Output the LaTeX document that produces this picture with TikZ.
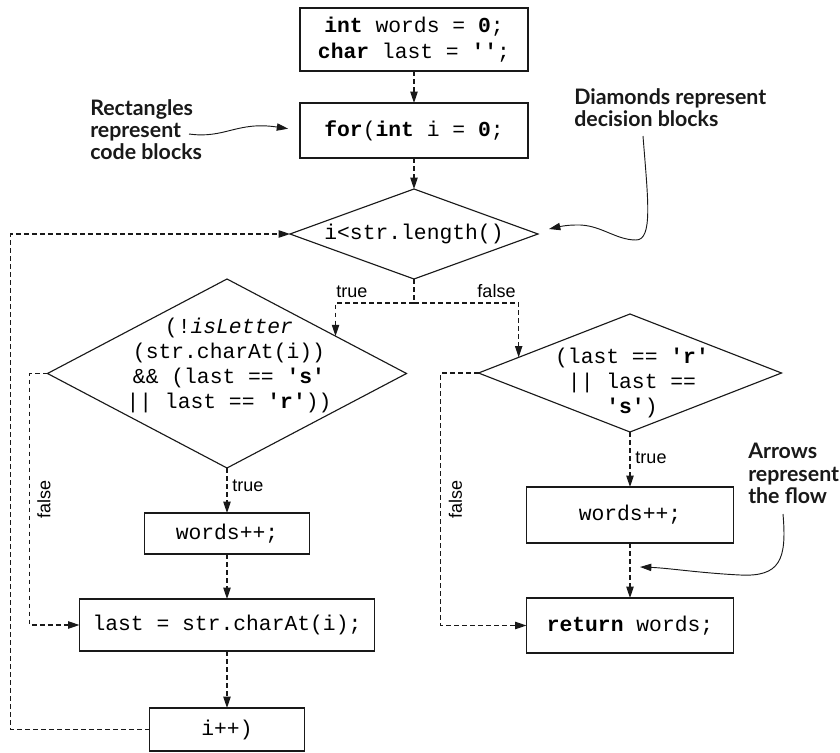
\documentclass[tikz,border=0pt]{standalone}
\usepackage{fontspec}
\setmainfont{Liberation Sans}
\setmonofont{Liberation Mono}
\newfontfamily\annofont{Lato}
\usetikzlibrary{shapes.geometric,arrows.meta,calc}

\tikzset{
  codebox/.style={draw=black!90, line width=0.85pt, inner sep=0pt, outer sep=0pt,
    font=\ttfamily\fontsize{16}{19}\selectfont, align=center},
  codetext/.style={inner sep=0pt, font=\ttfamily\fontsize{16}{18.75}\selectfont, align=center},
  dia/.style={draw=black!90, line width=0.85pt, shape=diamond, inner sep=0pt, outer sep=0pt},
  flowline/.style={draw=black!90, line width=0.85pt, dash pattern=on 3.6pt off 2.4pt},
  flow/.style={flowline, -{Triangle[length=8.5pt,width=5.5pt]}},
  anno/.style={font=\annofont\bfseries\fontsize{16}{16.75}\selectfont, align=left,
    inner sep=0pt, anchor=north west, text=black!90},
  annoarrow/.style={draw=black!90, line width=0.7pt, -{Triangle[length=8.5pt,width=5.5pt]}},
  lbl/.style={font=\fontsize{13.5}{15}\selectfont, inner sep=0pt}
}

\begin{document}
\begin{tikzpicture}[x=0.75pt,y=-0.75pt]
\useasboundingbox (0,0) rectangle (840,753);

% code blocks
\node[codebox, minimum width=171pt, minimum height=47.25pt] (init) at (414,39.5)
  {\textbf{int} words = \textbf{0};\\\textbf{char} last = \textbf{'{}'};};
\node[codebox, minimum width=171pt, minimum height=41.25pt] (forb) at (414,130.5)
  {\textbf{for}(\textbf{int} i = \textbf{0};};

% decisions
\node[dia, minimum width=186pt, minimum height=67.5pt] (cond) at (414,234) {};
\node[codetext] (condtxt) at (414,234) {i<str.length()};

\node[dia, minimum width=269.25pt, minimum height=141.75pt] (letter) at (227,373.5) {};
\node[codetext] (lettertxt) at (229,365)
  {(!\textit{isLetter}\\(str.charAt(i))\\\&\& (last == \textbf{'s'}\\|| last == \textbf{'r'}))};

\node[dia, minimum width=227.25pt, minimum height=88.5pt] (rs) at (630,373) {};
\node[codetext] (rstxt) at (632,383)
  {(last == \textbf{'r'}\\|| last ==\\\textbf{'s'})};

% left column
\node[codebox, minimum width=123.75pt, minimum height=30.75pt] (lw) at (227,533.5) {words++;};
\node[codebox, minimum width=221.25pt, minimum height=39pt] (last) at (227,625) {last = str.charAt(i);};
\node[codebox, minimum width=116.25pt, minimum height=32.25pt] (ipp) at (227,729.5) {i++)};

% right column
\node[codebox, minimum width=155.25pt, minimum height=42pt] (rw) at (630,515) {words++;};
\node[codebox, minimum width=155.25pt, minimum height=41.25pt] (ret) at (630,625.5) {\textbf{return} words;};

% connectors
\draw[flow] (init) -- (forb);
\draw[flow] (forb) -- (cond);
\coordinate (split) at (414,303);
\draw[flowline] (cond.south) -- (split);
\draw[flow] (split) -| (letter.19);
\draw[flow] (split) -| (rs.172.5);
\node[lbl] (ltrue) at (352,292) {true};
\node[lbl] (rfalse) at (496.5,291) {false};

\draw[flow] (letter.south) -- (lw.north);
\node[lbl] (ltrue2) at (248,485.5) {true};
\draw[flow] (letter.west) -- ++(-18,0) |- (last.west);
\node[lbl, rotate=90] (lfalse2) at (44,499) {false};
\draw[flow] (lw) -- (last);
\draw[flow] (last) -- (ipp);
\draw[flow] (ipp.west) -- ++(-139,0) |- (cond.west);

\draw[flow] (rs.south) -- (rw.north);
\node[lbl] (rtrue2) at (651,458) {true};
\draw[flow] (rs.west) -- ++(-38,0) |- (ret.west);
\node[lbl, rotate=90] (rfalse2) at (455.5,499) {false};
\draw[flow] (rw) -- (ret);

% annotations
\node[anno] (annorect) at (90,99) {Rectangles\\represent\\code blocks};
\node[anno] (annodia) at (574,88) {Diamonds represent\\decision blocks};
\node[anno] (annoarr) at (748,443) {Arrows\\represent\\the flow};

\coordinate (rectstart) at (189,134);
\draw[annoarrow, shorten >=9pt] (rectstart) .. controls (225,139) and (237,121) .. (forb.west);

\coordinate (diastart) at (643,136);
\coordinate (diaend) at (549,229);
\draw[annoarrow] (diastart) .. controls (648,200) and (653,240) .. (636,240)
  .. controls (615,240) and (600,224) .. (576,225)
  .. controls (566,225) and (558,227) .. (diaend);

\coordinate (arrstart) at (783,514);
\coordinate (arrend) at (640,567);
\draw[annoarrow] (arrstart) .. controls (787,560) and (780,577) .. (740,575)
  .. controls (700,573) and (668,568) .. (arrend);
\end{tikzpicture}
\end{document}
